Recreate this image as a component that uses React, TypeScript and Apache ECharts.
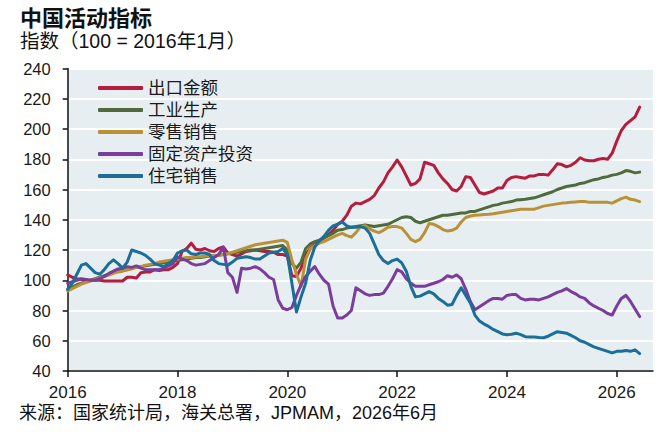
import React, { useEffect, useRef } from "react";
import * as echarts from "echarts";

const START_YEAR = 2016;
const X_TICKS = [2016, 2018, 2020, 2022, 2024, 2026];
const Y_MIN = 40;
const Y_MAX = 240;
const Y_STEP = 20;

const NAMES = ["出口金额", "工业生产", "零售销售", "固定资产投资", "住宅销售"];
const COLORS = ["#b51d3e", "#4f6a3b", "#b99238", "#7a3d9c", "#1b6e98"];

// monthly index values, Jan 2016 – Jun 2026
const exportsVal = [
  103.5, 102, 101, 100.5, 100, 100, 100, 100, 99.5, 99.5, 99.5, 99.5,
  99.5, 102, 102, 101.5, 105, 105.5, 105.5, 107, 106.5, 107, 107, 108.5,
  111, 119, 121, 124.5, 120.5, 120, 121, 119.5, 119, 121, 122, 118,
  117, 116, 117.5, 119, 119.5, 120, 119.5, 119, 119, 118.5, 117, 117,
  116, 103, 102.5, 108, 117, 121, 124, 126, 128, 130, 133, 137,
  139, 143, 149, 151, 150.5, 152, 153.5, 156, 161, 165, 171, 175,
  179.5, 175, 169, 163, 164, 167, 178, 177, 176, 171, 167, 164,
  160, 159, 162, 168.5, 168, 163, 158, 157, 158, 159, 161, 161,
  166, 168, 168.5, 168, 167.5, 169, 169, 170, 170, 169.5, 173, 177,
  176.5, 175, 176, 178, 181, 179.5, 179, 179, 180, 180.5, 180, 184,
  192, 199, 203, 205.5, 208, 214.5,
];

const industryVal = [
  94, 95.5, 97, 98, 99, 100, 101, 102, 103, 104, 105, 106,
  106.5, 107, 108, 108.5, 109, 109.5, 110, 110.5, 111, 111.5, 112, 112.5,
  113, 113.5, 114, 114.5, 115, 115, 115.5, 116, 116, 116.5, 117, 117.5,
  118, 118.5, 119, 119.5, 120, 120, 120.5, 121, 121.5, 122, 122.5, 123,
  120, 111, 108, 112, 121, 124, 125.5, 126.5, 128, 129.5, 131, 133,
  133.5, 134.5, 135, 135.5, 136, 136.5, 136, 135.5, 136, 136.5, 137, 138.5,
  140, 141.5, 142, 141.5, 139, 138, 139, 140, 141, 142, 143, 143,
  143.5, 144, 144.5, 144.5, 145.5, 145.5, 146.5, 147.5, 148.5, 149.5, 150, 151,
  151.5, 152, 153, 153.3, 153.5, 154, 154.5, 155.5, 156.5, 157.5, 158.5, 160,
  161, 162, 162.5, 163, 164, 164.5, 165.5, 166.5, 167, 168, 168.5, 169.5,
  170, 171, 172.5, 172, 171, 171.5,
];

const retailVal = [
  93, 94.5, 96, 97.5, 98.5, 99.5, 100.5, 101.5, 102.5, 103.5, 104.5, 105.5,
  106, 107, 107.5, 108.5, 109, 110, 110.5, 111, 112, 112.5, 113, 113.5,
  114, 114.5, 115, 115, 115.5, 115.5, 116, 116, 116, 116.5, 117, 117.5,
  118.5, 119.5, 120.5, 121.5, 122.5, 123.5, 124, 124.5, 125, 125.5, 126, 126.5,
  125, 113.5, 104, 96, 114, 120.5, 123, 124.5, 125.5, 127, 128.5, 130,
  131, 129.5, 128.5, 131.5, 135.5, 136, 134, 132.5, 131.5, 133, 135, 135.5,
  135.5, 134.5, 131, 127, 125.5, 127, 131.5, 137.5, 137, 135.5, 133.5, 132.5,
  133, 134.5, 138.5, 141.5, 142.5, 143, 143.2, 143.4, 143.6, 144, 144.5, 145,
  145.5, 146, 146.5, 147, 147, 147, 147, 148, 149, 149.5, 150, 150.5,
  151, 151.2, 151.5, 151.8, 152, 152, 151.5, 151.5, 151.5, 151.5, 151.5, 151,
  152.5, 154, 155, 153.5, 153, 152,
];

const fixedInvVal = [
  98, 99, 100, 101, 100.5, 100, 100, 101, 102.5, 104.5, 106, 107.5,
  108, 109, 108.5, 109.5, 108, 107, 107, 107, 107, 108, 109.5, 111,
  115.5, 114, 113, 111, 110, 110.5, 111, 113, 115, 117, 122, 105,
  102, 92, 108, 107.5, 108, 109, 107.5, 105, 102, 100.5, 87, 81.5,
  80.5, 82, 90, 97, 102.5, 106, 109, 104, 100, 97.5, 83, 75,
  75, 77, 80, 95, 93, 91, 90, 90.5, 90.5, 91.5, 96, 101,
  107, 105.5, 101, 98, 96, 96, 96, 97, 98, 99, 100.5, 103,
  102, 103.5, 101, 94, 86, 80.5, 82.5, 84.5, 86.5, 88, 88, 87.5,
  90, 90.5, 90.5, 88, 87, 87.5, 87.5, 87, 88, 89, 90.5, 92,
  93, 94.5, 92.5, 91, 89, 88, 85, 83, 81.5, 80, 78, 77,
  83, 88, 90, 86, 81, 76,
];

const housingVal = [
  94, 98, 104, 110, 111, 108, 105, 104, 107, 111, 113.5, 111,
  108, 112, 120, 119, 118, 116.5, 114, 111, 110, 109, 111, 113,
  118, 119.5, 120, 117.5, 117, 118, 118, 117, 113, 111, 110.5, 110,
  112, 114.5, 115, 115.5, 115, 114, 114, 116, 118, 118.5, 119, 121,
  117, 98, 79, 89, 98, 113, 122, 126, 129, 133, 136, 137,
  138.5, 136, 135, 135, 135.5, 134.5, 131, 124, 117, 113, 111, 113,
  114, 111.5, 106, 96, 89, 89.5, 91, 92.5, 91, 88, 86, 83.5,
  84, 90, 95, 90, 85, 77, 73, 71, 69.5, 67.5, 66, 64.5,
  64, 64.3, 65, 64, 62.7, 62.5, 62.5, 62.2, 62, 63, 64.5, 66,
  65.5, 65, 63.5, 62, 60, 59, 57.5, 56, 55, 54, 53, 52,
  53, 53, 53.5, 53, 54, 51.5,
];

const ALL_VALUES = [exportsVal, industryVal, retailVal, fixedInvVal, housingVal];

const FONT = '"Liberation Sans", "Noto Sans CJK SC", sans-serif';

export default function App() {
  const ref = useRef<HTMLDivElement>(null);

  useEffect(() => {
    if (!ref.current) return;
    const chart = echarts.init(ref.current, undefined, { renderer: "svg" });
    const series = ALL_VALUES.map((vals, k) => ({
      name: NAMES[k],
      type: "line",
      showSymbol: false,
      symbol: "none",
      smooth: false,
      data: vals.map((v, i) => [START_YEAR + i / 12, v]),
      lineStyle: { width: 3, color: COLORS[k], join: "round", cap: "round" },
      itemStyle: { color: COLORS[k] },
      z: 2 + k,
    }));

    chart.setOption({
      animation: false,
      textStyle: { fontFamily: FONT },
      grid: {
        left: 67.7,
        right: 17,
        top: 68.5,
        bottom: 77,
        show: true,
        backgroundColor: "#e7eef2",
        borderWidth: 0,
      },
      legend: {
        orient: "vertical",
        left: 98,
        top: 77,
        padding: 0,
        itemGap: 0,
        itemWidth: 45,
        itemHeight: 4,
        icon: "roundRect",
        data: NAMES,
        textStyle: {
          fontFamily: FONT,
          fontSize: 17.5,
          color: "#1a1a1a",
          lineHeight: 22,
          padding: [0, 0, 0, 0],
        },
      },
      xAxis: {
        type: "value",
        min: START_YEAR,
        max: 2026.66,
        interval: 2,
        axisLine: { show: true, lineStyle: { color: "#111", width: 1.5 } },
        axisTick: {
          show: true,
          length: 6,
          lineStyle: { color: "#111", width: 1.5 },
          customValues: X_TICKS,
        },
        axisLabel: {
          fontFamily: FONT,
          fontSize: 17,
          color: "#1a1a1a",
          margin: 13,
          customValues: X_TICKS,
          formatter: (v: number) => String(Math.round(v)),
        },
        splitLine: { show: false },
      },
      yAxis: {
        type: "value",
        min: Y_MIN,
        max: Y_MAX,
        interval: Y_STEP,
        axisLine: { show: true, lineStyle: { color: "#111", width: 1.5 } },
        axisTick: { show: true, length: 5, lineStyle: { color: "#111", width: 1.5 } },
        axisLabel: {
          fontFamily: FONT,
          fontSize: 16.5,
          color: "#1a1a1a",
          margin: 17,
        },
        splitLine: { show: true, lineStyle: { color: "#ffffff", width: 2 } },
      },
      graphic: [
        {
          type: "text",
          left: 20,
          top: 7,
          style: {
            text: "中国活动指标",
            font: `bold 22px ${FONT}`,
            fill: "#111",
          },
        },
        {
          type: "text",
          left: 20,
          top: 31,
          style: {
            text: "指数（100 = 2016年1月）",
            font: `19.5px ${FONT}`,
            fill: "#111",
          },
        },
        {
          type: "text",
          left: 19,
          top: 404,
          style: {
            text: "来源：国家统计局，海关总署，JPMAM，2026年6月",
            font: `18px ${FONT}`,
            fill: "#111",
          },
        },
      ],
      series,
    });

    return () => chart.dispose();
  }, []);

  return (
    <div
      ref={ref}
      style={{ position: "absolute", left: 0, top: 0, width: 670, height: 448, background: "#fff" }}
    />
  );
}
